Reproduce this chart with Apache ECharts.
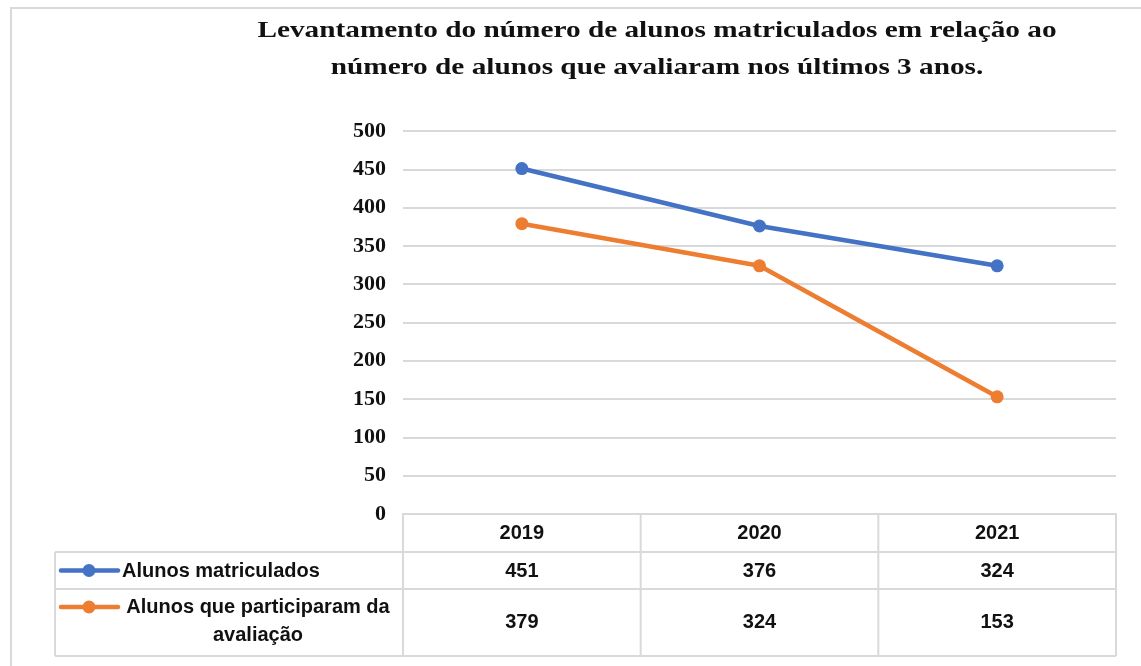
<!DOCTYPE html>
<html>
<head>
<meta charset="utf-8">
<title>Levantamento de alunos</title>
<script src="https://cdn.jsdelivr.net/npm/echarts@6/dist/echarts.min.js"></script>
<style>
html,body{margin:0;padding:0;background:#fff;}
#main{width:1141px;height:666px;}
</style>
</head>
<body>
<div id="main"></div>
<script>
// dados
var anos = ['2019', '2020', '2021'];
var matriculados = [451, 376, 324];
var participaram = [379, 324, 153];
var nomeMatric = 'Alunos matriculados';
var nomePartic = 'Alunos que participaram da\navaliação';
var yTicks = [0, 50, 100, 150, 200, 250, 300, 350, 400, 450, 500];
var titulo = 'Levantamento do número de alunos matriculados em relação ao\nnúmero de alunos que avaliaram nos últimos 3 anos.';

var azul = '#4472C4', laranja = '#ED7D31', cinza = '#d9d9d9';
var fonteTab = '"Liberation Sans", Arial, sans-serif';
var fonteSerif = '"Liberation Serif", "Times New Roman", serif';

var chart = echarts.init(document.getElementById('main'));
var option = {
	animation: false,
	backgroundColor: '#fff',
	grid: {left: 403, right: 25, top: 131, bottom: 152, containLabel: false},
	xAxis: {
		type: 'category',
		data: anos,
		boundaryGap: true,
		axisLine: {show: true, lineStyle: {color: cinza, width: 2}},
		axisTick: {show: false},
		axisLabel: {margin: 9, fontFamily: fonteTab, fontWeight: 'bold', fontSize: 20, color: '#111'},
		splitLine: {show: false}
	},
	yAxis: {
		type: 'value',
		min: yTicks[0], max: yTicks[yTicks.length - 1], interval: 50,
		axisLine: {show: false},
		axisTick: {show: false},
		axisLabel: {margin: 17, fontFamily: fonteSerif, fontWeight: 'bold', fontSize: 22, color: '#111'},
		splitLine: {show: true, lineStyle: {color: cinza, width: 2}}
	},
	series: [
		{
			name: nomeMatric, type: 'line', data: matriculados,
			symbol: 'circle', symbolSize: 13,
			lineStyle: {color: azul, width: 4.5},
			itemStyle: {color: azul}
		},
		{
			name: nomePartic, type: 'line', data: participaram,
			symbol: 'circle', symbolSize: 13,
			lineStyle: {color: laranja, width: 4.5},
			itemStyle: {color: laranja}
		}
	]
};
chart.setOption(option);

// tabela de dados abaixo do eixo
function montaTabela() {
	var rect = chart.getModel().getComponent('grid').coordinateSystem.getRect();
	var xs = anos.map(function (a) { return chart.convertToPixel({xAxisIndex: 0}, a); });
	var passo = rect.width / anos.length;
	var yTopo = rect.y + rect.height;
	var linhas = [yTopo, 552, 589, 656];
	var xEsq = 55;
	var fonte = 'bold 20px ' + fonteTab;
	var g = [];
	function linha(x1, y1, x2, y2) {
		g.push({type: 'line', shape: {x1: x1, y1: y1, x2: x2, y2: y2}, style: {stroke: cinza, lineWidth: 2}, silent: true});
	}
	function texto(x, y, t, alinha) {
		g.push({type: 'text', x: x, y: y, style: {text: t, fill: '#111', font: fonte, align: alinha || 'center', verticalAlign: 'middle'}, silent: true});
	}
	// moldura externa
	g.push({type: 'rect', shape: {x: 11, y: 8, width: 1200, height: 700}, style: {fill: 'none', stroke: cinza, lineWidth: 2}, silent: true});
	// título (esticado na horizontal como no original)
	g.push({type: 'text', x: 657, y: 12, scaleX: 1.22, style: {text: titulo, fill: '#111', font: 'bold 24px ' + fonteSerif, align: 'center', verticalAlign: 'top', lineHeight: 37}, silent: true});
	// horizontais
	for (var k = 1; k < linhas.length; k++) {
		linha(xEsq, linhas[k], rect.x + rect.width, linhas[k]);
	}
	// verticais
	linha(xEsq, linhas[1], xEsq, linhas[3]);
	for (var i = 0; i <= anos.length; i++) {
		var xv = rect.x + passo * i;
		linha(xv, yTopo, xv, linhas[3]);
	}
	// valores
	var yL1 = (linhas[1] + linhas[2]) / 2 + 1, yL2 = (linhas[2] + linhas[3]) / 2;
	for (var j = 0; j < anos.length; j++) {
		texto(xs[j], yL1, String(matriculados[j]));
		texto(xs[j], yL2, String(participaram[j]));
	}
	// legendas
	var series = [[nomeMatric, azul, yL1 - 1], [nomePartic, laranja, linhas[2] + 18]];
	series.forEach(function (s) {
		g.push({type: 'line', shape: {x1: 61, y1: s[2], x2: 118, y2: s[2]}, style: {stroke: s[1], lineWidth: 4.5, lineCap: 'round'}, silent: true});
		g.push({type: 'circle', shape: {cx: 89, cy: s[2], r: 6.5}, style: {fill: s[1]}, silent: true});
	});
	texto(122, yL1, nomeMatric, 'left');
	g.push({type: 'text', x: 258, y: linhas[2] + 4, style: {text: nomePartic, fill: '#111', font: fonte, align: 'center', verticalAlign: 'top', lineHeight: 28}, silent: true});
	chart.setOption({graphic: g});
}
montaTabela();
</script>
</body>
</html>
